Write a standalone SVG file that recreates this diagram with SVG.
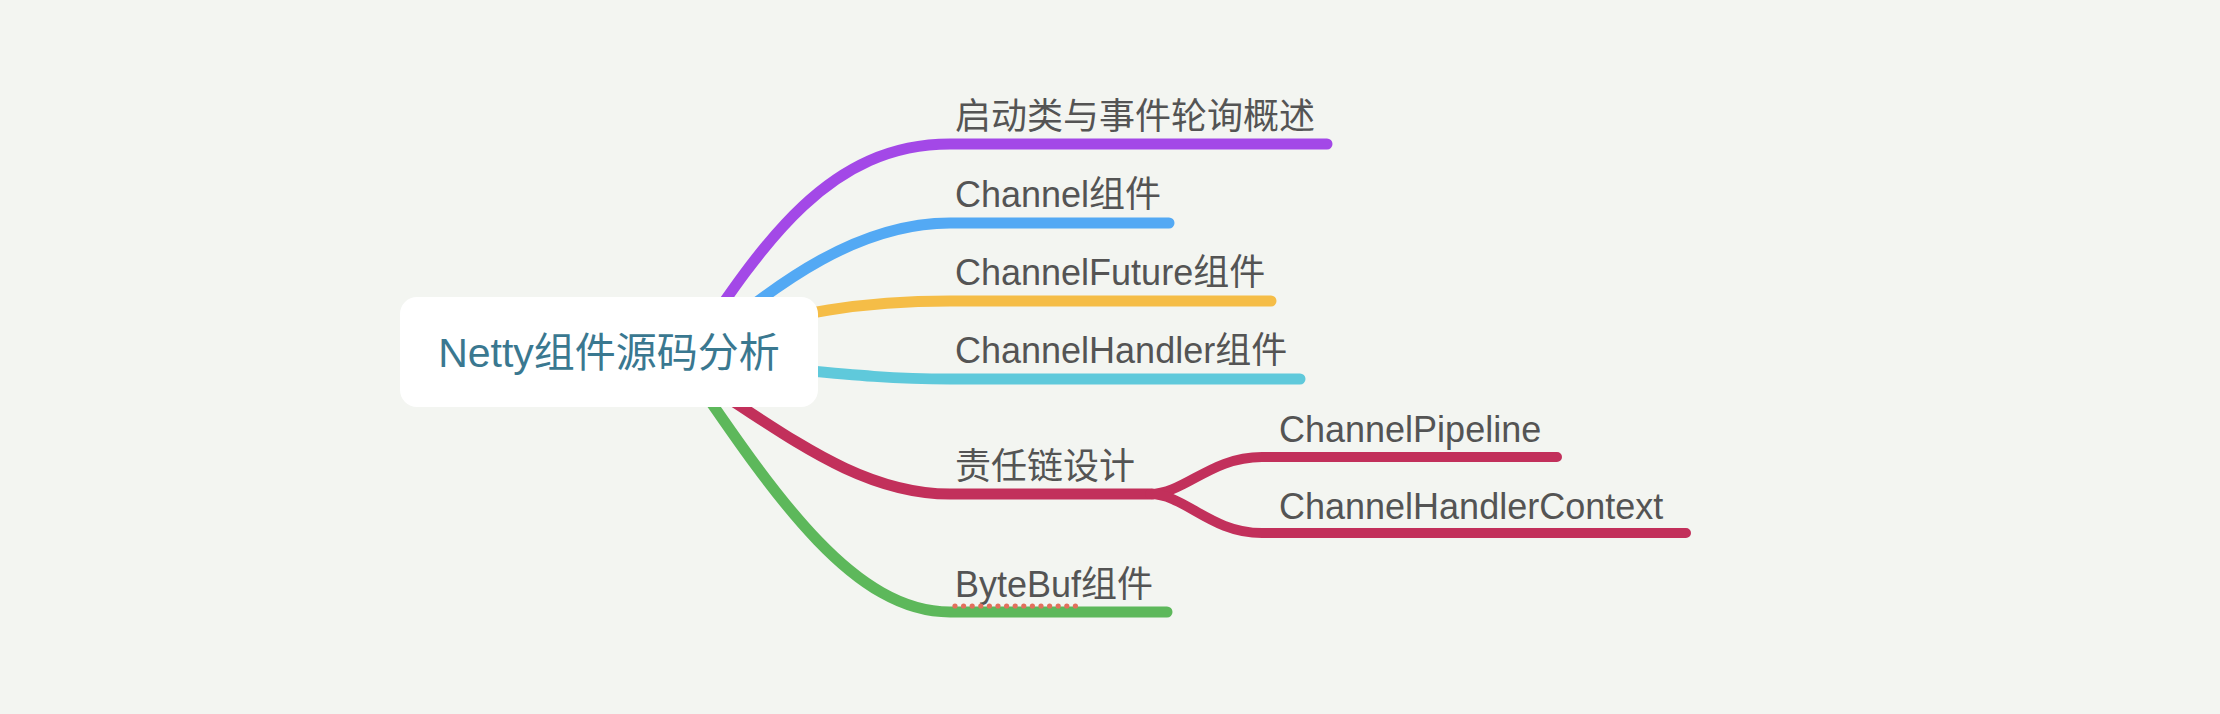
<svg xmlns="http://www.w3.org/2000/svg" width="2220" height="714" viewBox="0 0 2220 714">
<style>
.bg{fill:#f3f5f1}
.c{fill:none;stroke-linecap:round;stroke-linejoin:round;stroke-width:11}
.s{stroke-width:10}
.lbl{font-family:"Liberation Sans","Noto Sans CJK SC",sans-serif;font-size:36px;fill:#545454}
.root{font-family:"Liberation Sans","Noto Sans CJK SC",sans-serif;font-size:41px;fill:#3a7890}
</style>
<rect class="bg" x="0" y="0" width="2220" height="714"/>
<g id="connectors">
<path class="c" stroke="#a348e7" d="M690 352 C765 240 830 144 950 144 L1327 144"/>
<path class="c" stroke="#53a9f4" d="M700 347 C780 280 860 223 950 223 L1169 223"/>
<path class="c" stroke="#f5bd47" d="M700 340 C800 312 860 301 950 301 L1271 301"/>
<path class="c" stroke="#5fc9db" d="M700 362 C800 368 860 379 950 379 L1300 379"/>
<path class="c" stroke="#c2305b" d="M690 375 C770 420 850 494 950 494 L1152 494"/>
<path class="c s" stroke="#c2305b" d="M1150 494 C1185 494 1210 457 1262 457 L1557 457"/>
<path class="c s" stroke="#c2305b" d="M1150 494 C1185 494 1210 533 1262 533 L1686 533"/>
<path class="c" stroke="#5db85b" d="M682 360 C770 488 850 612 950 612 L1167 612"/>
</g>
<g id="root">
<rect x="400" y="297" width="418" height="110" rx="17" ry="17" fill="#ffffff"/>
<text class="root" x="609" y="367" text-anchor="middle">Netty组件源码分析</text>
</g>
<g id="n1"><text class="lbl" x="955" y="129">启动类与事件轮询概述</text></g>
<g id="n2"><text class="lbl" x="955" y="207">Channel组件</text></g>
<g id="n3"><text class="lbl" x="955" y="285">ChannelFuture组件</text></g>
<g id="n4"><text class="lbl" x="955" y="363">ChannelHandler组件</text></g>
<g id="n5"><text class="lbl" x="955" y="479">责任链设计</text></g>
<g id="n5a"><text class="lbl" x="1279" y="442">ChannelPipeline</text></g>
<g id="n5b"><text class="lbl" x="1279" y="519">ChannelHandlerContext</text></g>
<g id="n6"><text class="lbl" x="955" y="597">ByteBuf组件</text>
<line x1="955" y1="606" x2="1082" y2="606" stroke="#e2705c" stroke-width="5.2" stroke-linecap="round" stroke-dasharray="0 8.6"/>
</g>
</svg>
